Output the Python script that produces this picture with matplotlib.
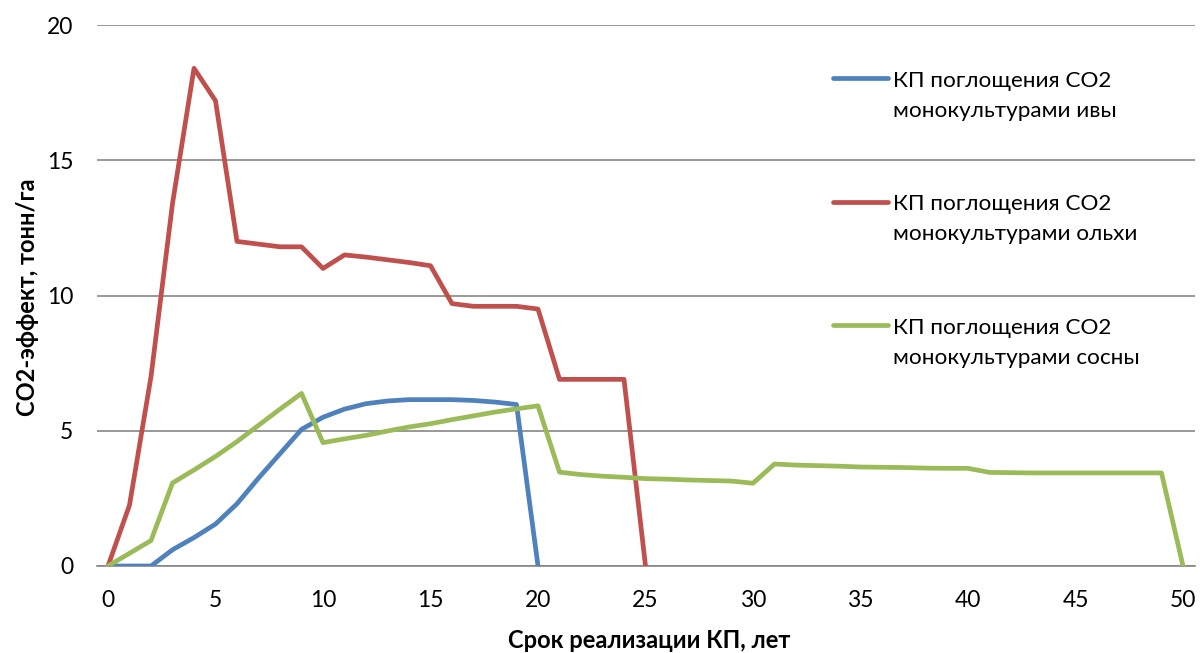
import numpy as np
import matplotlib
matplotlib.use("Agg")
from matplotlib import pyplot as plt
from matplotlib.lines import Line2D

plt.rcParams['font.family'] = ['Lato', 'DejaVu Sans']

# years
years_iva = list(range(0, 21))
years_olha = list(range(0, 26))
years_sosna = list(range(0, 51))

# CO2 effect, t/ha
iva = [0, 0, 0, 0.6, 1.05, 1.55, 2.3, 3.25, 4.15, 5.05, 5.5,
       5.8, 6.0, 6.1, 6.15, 6.15, 6.15, 6.12, 6.06, 5.97, 0]
olha = [0, 2.25, 7.0, 13.4, 18.4, 17.2, 12.0, 11.9, 11.8, 11.8, 11.0,
        11.5, 11.42, 11.32, 11.22, 11.1, 9.7, 9.6, 9.6, 9.6, 9.5,
        6.9, 6.9, 6.9, 6.9, 0]
sosna = [0, 0.47, 0.94, 3.07, 3.55, 4.05, 4.6, 5.2, 5.8, 6.38, 4.56,
         4.7, 4.83, 4.99, 5.14, 5.26, 5.41, 5.55, 5.69, 5.81, 5.92,
         3.47, 3.38, 3.32, 3.28, 3.23, 3.21, 3.18, 3.16, 3.14, 3.06,
         3.77, 3.73, 3.71, 3.69, 3.66, 3.65, 3.64, 3.62, 3.61, 3.61,
         3.46, 3.45, 3.44, 3.44, 3.44, 3.44, 3.44, 3.44, 3.44, 0]

labels = [u'КП поглощения СО2\nмонокультурами ивы',
          u'КП поглощения СО2\nмонокультурами ольхи',
          u'КП поглощения СО2\nмонокультурами сосны']
colors = ['#4F81BD', '#C0504D', '#9BBB59']

W, H = 1200, 653
fig = plt.figure(figsize=(12, 6.53), dpi=100)
#axes box in pixels: left 97, right 1195, top 25, bottom 566
ax = fig.add_axes([97 / W, 1 - 566 / H, (1195 - 97) / W, (566 - 25) / H])

series = [(years_iva, iva), (years_olha, olha), (years_sosna, sosna)]
for (xs, ys), c in zip(series, colors):
	ax.plot(xs, ys, color=c, lw=3.4, solid_joinstyle='round', solid_capstyle='round', zorder=3)

ax.set_xlim(-11 / 21.5, 50 + 12 / 21.5)
ax.set_ylim(0, 20)
ax.set_xticks(np.arange(0, 51, 5))
ax.set_yticks(np.arange(0, 21, 5))
ax.grid(axis='y', color='#868686', lw=1.2)
ax.set_axisbelow(True)
for s in ['left', 'right', 'top']:
	ax.spines[s].set_visible(False)
ax.spines['bottom'].set_color('#868686')
ax.spines['bottom'].set_linewidth(1.2)
ax.tick_params(axis='both', length=0, labelsize=16.5, colors='black')
ax.tick_params(axis='y', pad=17)
ax.tick_params(axis='x', pad=17)

ax.set_xlabel(u'Срок реализации КП, лет', fontsize=17, fontweight='bold')
ax.set_ylabel(u'СО2-эффект, тонн/га', fontsize=17, fontweight='bold')
ax.xaxis.set_label_coords((649 - 97) / 1098, -(640 - 566) / 541)
ax.yaxis.set_label_coords(-(97 - 28) / 1098, 1 - (297 - 25) / 541)
ax.xaxis.label.set_va('center')
ax.yaxis.label.set_va('center')

#legend drawn by hand so the key sits at the first text line
for i, (lab, c) in enumerate(zip(labels, colors)):
	yh = 78 + 123.5 * i
	fig.add_artist(Line2D([833 / W, 888 / W], [1 - yh / H, 1 - yh / H], color=c, lw=3.4,
		solid_capstyle='round', transform=fig.transFigure))
	l1, l2 = lab.split('\n')
	fig.text(893 / W, 1 - (yh + 9) / H, l1, fontsize=16.2, va='baseline', ha='left')
	fig.text(893 / W, 1 - (yh + 39) / H, l2, fontsize=16.2, va='baseline', ha='left')

fig.savefig('out.png', dpi=100)
